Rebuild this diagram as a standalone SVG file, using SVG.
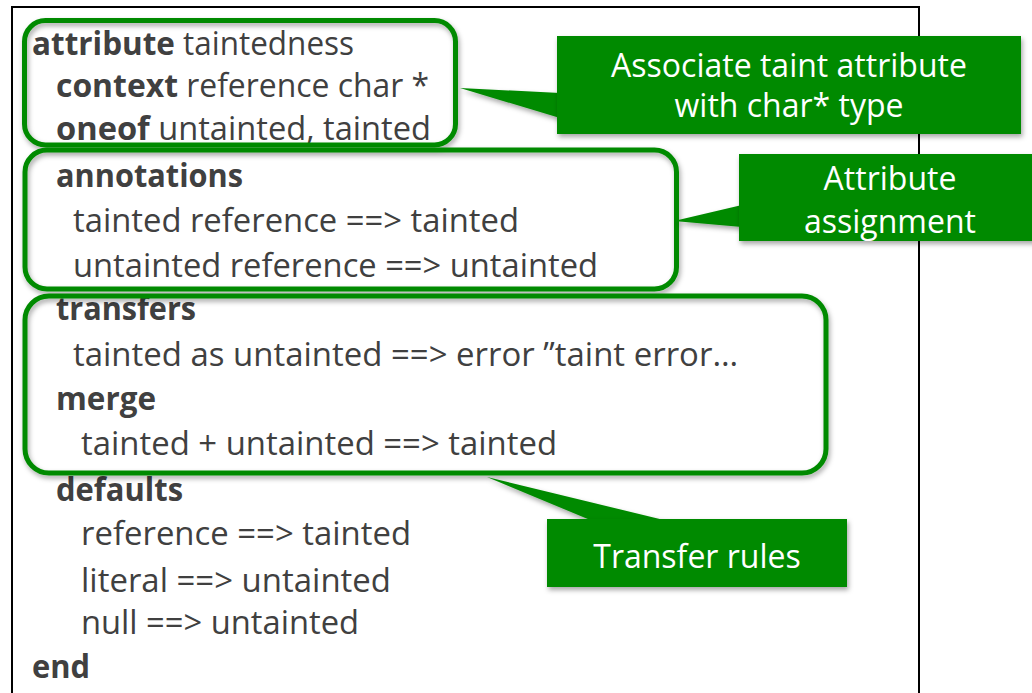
<svg xmlns="http://www.w3.org/2000/svg" width="1032" height="693" viewBox="0 0 1032 693">
  <defs>
    <filter id="sh" x="-10%" y="-10%" width="130%" height="140%">
      <feDropShadow dx="1.5" dy="3" stdDeviation="2.5" flood-color="#000" flood-opacity="0.35"/>
    </filter>
  </defs>
  <style>
    .code { font-family: "Open Sans", "Noto Sans", sans-serif; font-size: 32px; fill: #404040; }
    .kw { font-weight: bold; }
    .box { fill: none; stroke: #008a00; stroke-width: 5; filter: url(#sh); }
    .callout { fill: #008a00; filter: url(#sh); }
    .ctext { font-family: "Open Sans", "Noto Sans", sans-serif; font-size: 32px; fill: #ffffff; text-anchor: middle; }
    .frame { fill: #ffffff; stroke: #000000; stroke-width: 2; }
  </style>
  <rect x="0" y="0" width="1032" height="693" fill="#ffffff"/>
  <g id="frame">
    <rect class="frame" x="12" y="7" width="907" height="720"/>
  </g>
  <g id="code">
    <text class="code" x="32" y="54.5" textLength="322" lengthAdjust="spacingAndGlyphs"><tspan class="kw">attribute</tspan> taintedness</text>
    <text class="code" x="56" y="97" textLength="373" lengthAdjust="spacingAndGlyphs"><tspan class="kw">context</tspan> reference char *</text>
    <text class="code" x="56" y="140" textLength="375" lengthAdjust="spacingAndGlyphs"><tspan class="kw">oneof</tspan> untainted, tainted</text>
    <text class="code kw" x="56" y="187" textLength="187" lengthAdjust="spacingAndGlyphs">annotations</text>
    <text class="code" x="73" y="231.5" textLength="446" lengthAdjust="spacingAndGlyphs">tainted reference ==&gt; tainted</text>
    <text class="code" x="73" y="277" textLength="525" lengthAdjust="spacingAndGlyphs">untainted reference ==&gt; untainted</text>
    <text class="code kw" x="56" y="320" textLength="140" lengthAdjust="spacingAndGlyphs">transfers</text>
    <text class="code" x="73" y="366" textLength="665" lengthAdjust="spacingAndGlyphs">tainted as untainted ==&gt; error ”taint error…</text>
    <text class="code kw" x="56" y="409.5" textLength="100" lengthAdjust="spacingAndGlyphs">merge</text>
    <text class="code" x="81" y="455" textLength="476" lengthAdjust="spacingAndGlyphs">tainted + untainted ==&gt; tainted</text>
    <text class="code kw" x="56" y="501" textLength="127" lengthAdjust="spacingAndGlyphs">defaults</text>
    <text class="code" x="81" y="545" textLength="330" lengthAdjust="spacingAndGlyphs">reference ==&gt; tainted</text>
    <text class="code" x="81" y="591.5" textLength="310" lengthAdjust="spacingAndGlyphs">literal ==&gt; untainted</text>
    <text class="code" x="81" y="634" textLength="278" lengthAdjust="spacingAndGlyphs">null ==&gt; untainted</text>
    <text class="code kw" x="32" y="678" textLength="58" lengthAdjust="spacingAndGlyphs">end</text>
  </g>
  <g id="box-attribute">
    <rect class="box" x="24.5" y="20.5" width="431" height="124.5" rx="21" ry="21"/>
  </g>
  <g id="box-annotations">
    <rect class="box" x="25" y="150" width="651.5" height="139" rx="22" ry="22"/>
  </g>
  <g id="box-transfers">
    <rect class="box" x="25" y="296" width="801" height="177" rx="24" ry="24"/>
  </g>
  <g id="connectors">
    <polygon class="callout" points="460,88 560,93 560,118"/>
    <polygon class="callout" points="674,221 742,205 742,227"/>
    <polygon class="callout" points="487,477 595,522 672,522"/>
  </g>
  <g id="callout-associate">
    <rect class="callout" x="557" y="36" width="464" height="98"/>
    <text class="ctext" x="789" y="77">Associate taint attribute</text>
    <text class="ctext" x="789" y="116.5">with char* type</text>
  </g>
  <g id="callout-assignment">
    <rect class="callout" x="739" y="154" width="302" height="87"/>
    <text class="ctext" x="890" y="190">Attribute</text>
    <text class="ctext" x="890" y="233">assignment</text>
  </g>
  <g id="callout-transfer">
    <rect class="callout" x="547" y="519" width="300" height="68"/>
    <text class="ctext" x="697" y="568">Transfer rules</text>
  </g>
</svg>
